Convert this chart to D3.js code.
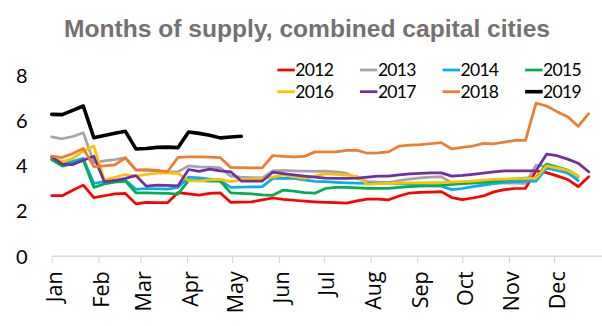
<!DOCTYPE html>
<html>
<head>
<meta charset="utf-8">
<script src="https://cdn.jsdelivr.net/npm/d3@7"></script>
<style>
    html, body { margin: 0; padding: 0; background: #ffffff; }
    #chart { width: 602px; height: 326px; }
</style>
</head>
<body>
<div id="chart"></div>
<script>
// Weekly months-of-supply readings, one array per calendar year
const years = ['2012', '2013', '2014', '2015', '2016', '2017', '2018', '2019'];
const colors = ['#ff0000', '#a5a5a5', '#00b0f0', '#00b050', '#ffc000', '#7030a0', '#ed7d31', '#000000'];

const s2012 = [2.68, 2.68, 2.92, 3.15, 2.60, 2.68, 2.76, 2.78, 2.32, 2.39, 2.38, 2.37, 2.82, 2.76, 2.71, 2.78,
    2.81, 2.39, 2.40, 2.41, 2.50, 2.58, 2.52, 2.48, 2.44, 2.41, 2.39, 2.37, 2.35, 2.45, 2.53, 2.53,
    2.50, 2.67, 2.80, 2.83, 2.84, 2.86, 2.60, 2.51, 2.58, 2.67, 2.85, 2.95, 3.00, 3.01, 3.78, 3.70,
    3.56, 3.40, 3.08, 3.52];
const s2013 = [5.28, 5.20, 5.30, 5.47, 4.15, 4.22, 4.28, 4.36, 3.82, 3.80, 3.78, 3.74, 3.74, 4.00, 3.96, 3.95,
    3.91, 3.55, 3.50, 3.48, 3.47, 3.78, 3.80, 3.78, 3.77, 3.76, 3.77, 3.74, 3.68, 3.45, 3.30, 3.28,
    3.26, 3.35, 3.42, 3.47, 3.50, 3.52, 3.25, 3.24, 3.24, 3.24, 3.24, 3.24, 3.24, 3.23, 4.03, 3.98,
    3.85, 3.67, 3.50];
const s2014 = [4.30, 4.11, 4.20, 4.33, 3.23, 3.30, 3.37, 3.37, 2.96, 3.00, 2.98, 2.97, 3.05, 3.50, 3.47, 3.42,
    3.36, 3.05, 3.06, 3.07, 3.08, 3.45, 3.45, 3.45, 3.38, 3.32, 3.30, 3.27, 3.25, 3.24, 3.23, 3.23,
    3.25, 3.22, 3.18, 3.15, 3.12, 3.10, 2.95, 3.00, 3.08, 3.15, 3.22, 3.28, 3.30, 3.33, 3.33, 3.90,
    3.80, 3.70, 3.35];
const s2015 = [4.28, 3.99, 4.10, 4.25, 3.05, 3.20, 3.28, 3.33, 2.81, 2.81, 2.80, 2.78, 2.75, 3.36, 3.35, 3.33,
    3.33, 2.81, 2.78, 2.76, 2.72, 2.70, 2.93, 2.88, 2.82, 2.79, 3.00, 3.05, 3.05, 3.03, 3.01, 3.01,
    3.01, 3.05, 3.08, 3.11, 3.12, 3.14, 3.18, 3.22, 3.25, 3.28, 3.32, 3.37, 3.42, 3.46, 3.47, 4.08,
    3.95, 3.82, 3.55];
const s2016 = [4.37, 4.18, 4.33, 4.65, 4.88, 3.37, 3.50, 3.62, 3.55, 3.62, 3.68, 3.69, 3.67, 3.35, 3.33, 3.38,
    3.40, 3.30, 3.38, 3.42, 3.44, 3.50, 3.60, 3.52, 3.45, 3.55, 3.66, 3.62, 3.59, 3.54, 3.18, 3.22,
    3.23, 3.24, 3.25, 3.25, 3.26, 3.26, 3.28, 3.30, 3.33, 3.37, 3.40, 3.42, 3.44, 3.45, 3.45, 4.00,
    3.90, 3.80, 3.55];
const s2017 = [4.40, 4.08, 4.06, 4.25, 4.43, 3.30, 3.35, 3.45, 3.57, 3.10, 3.15, 3.14, 3.12, 3.84, 3.76, 3.86,
    3.78, 3.74, 3.33, 3.33, 3.33, 3.72, 3.66, 3.60, 3.55, 3.50, 3.46, 3.45, 3.45, 3.46, 3.50, 3.55,
    3.55, 3.60, 3.65, 3.67, 3.69, 3.69, 3.55, 3.58, 3.63, 3.68, 3.74, 3.78, 3.78, 3.78, 3.79, 4.52,
    4.45, 4.30, 4.12, 3.74];
const s2018 = [4.43, 4.37, 4.55, 4.77, 3.97, 4.00, 4.05, 4.35, 3.81, 3.84, 3.80, 3.75, 4.38, 4.40, 4.40, 4.39,
    4.37, 3.93, 3.92, 3.91, 3.91, 4.46, 4.42, 4.40, 4.42, 4.62, 4.62, 4.62, 4.69, 4.69, 4.56, 4.58,
    4.62, 4.88, 4.92, 4.94, 4.98, 5.03, 4.75, 4.82, 4.88, 5.00, 4.98, 5.05, 5.13, 5.13, 6.78, 6.65,
    6.40, 6.18, 5.75, 6.31];
const s2019 = [6.28, 6.27, 6.46, 6.65, 5.25, 5.35, 5.44, 5.53, 4.75, 4.77, 4.82, 4.83, 4.81, 5.50, 5.44, 5.36,
    5.24, 5.28, 5.31];

const seriesValues = [s2012, s2013, s2014, s2015, s2016, s2017, s2018, s2019];
const yTicks = [0, 2, 4, 6, 8];

const width = 602;
const height = 326;

// All years share one calendar so the weeks line up by day of year
const yearStart = new Date(2019, 0, 1);
const weekDate = i => d3.timeDay.offset(yearStart, 7 * i);

const x = d3.scaleTime()
    .domain([yearStart, new Date(2019, 11, 31)])
    .range([51.7, 599.2]);

const y = d3.scaleLinear()
    .domain([0, 8])
    .range([256.3, 75.5]);

const svg = d3.select('#chart')
    .append('svg')
    .attr('width', width)
    .attr('height', height)
    .attr('viewBox', [0, 0, width, height]);

svg.append('text')
    .attr('x', 307)
    .attr('y', 37)
    .attr('text-anchor', 'middle')
    .style('font', 'bold 24.6px "Liberation Sans", Arial, sans-serif')
    .style('fill', '#767171')
    .text('Months of supply, combined capital cities');

// Y labels only, no axis line
svg.append('g')
    .selectAll('text')
    .data(yTicks)
    .join('text')
    .attr('x', 27.5)
    .attr('y', d => y(d))
    .attr('dy', '0.36em')
    .attr('text-anchor', 'end')
    .style('font', '20px Lato, sans-serif')
    .style('fill', '#000000')
    .text(d => d);

// Month axis along the bottom
const xAxis = svg.append('g')
    .attr('transform', `translate(0,${y(0)})`)
    .call(d3.axisBottom(x)
        .ticks(d3.timeMonth.every(1))
        .tickFormat(d3.timeFormat('%b'))
        .tickSizeInner(7)
        .tickSizeOuter(0));

xAxis.select('.domain')
    .attr('stroke', '#d9d9d9')
    .attr('stroke-width', 1.5)
    .attr('d', `M${x.range()[0]},0H${width}`);

xAxis.selectAll('.tick line')
    .attr('stroke', '#d9d9d9')
    .attr('stroke-width', 1.2);

xAxis.selectAll('.tick text')
    .attr('transform', 'rotate(-90)')
    .attr('x', -15)
    .attr('y', 0)
    .attr('dy', '10px')
    .attr('text-anchor', 'end')
    .style('font', '21.5px "Open Sans", sans-serif')
    .style('fill', '#000000');

const line = d3.line()
    .x((d, i) => x(weekDate(i)))
    .y(d => y(d));

svg.append('g')
    .selectAll('path')
    .data(seriesValues)
    .join('path')
    .attr('fill', 'none')
    .attr('stroke', (d, i) => colors[i])
    .attr('stroke-width', (d, i) => years[i] === '2019' ? 3.6 : 2.75)
    .attr('stroke-linejoin', 'round')
    .attr('stroke-linecap', 'round')
    .attr('d', line);

// Legend: two rows of four
const legend = svg.append('g')
    .selectAll('g')
    .data(years)
    .join('g')
    .attr('transform', (d, i) => `translate(${277.3 + (i % 4) * 82.6},${i < 4 ? 70 : 91.7})`);

legend.append('line')
    .attr('x1', 0)
    .attr('x2', 17.5)
    .attr('stroke', (d, i) => colors[i])
    .attr('stroke-width', (d, i) => d === '2019' ? 3.6 : 2.75);

legend.append('text')
    .attr('x', 18)
    .attr('y', 6.3)
    .style('font', '17.5px Lato, sans-serif')
    .style('letter-spacing', '-0.7px')
    .style('fill', '#000000')
    .text(d => d);
</script>
</body>
</html>
